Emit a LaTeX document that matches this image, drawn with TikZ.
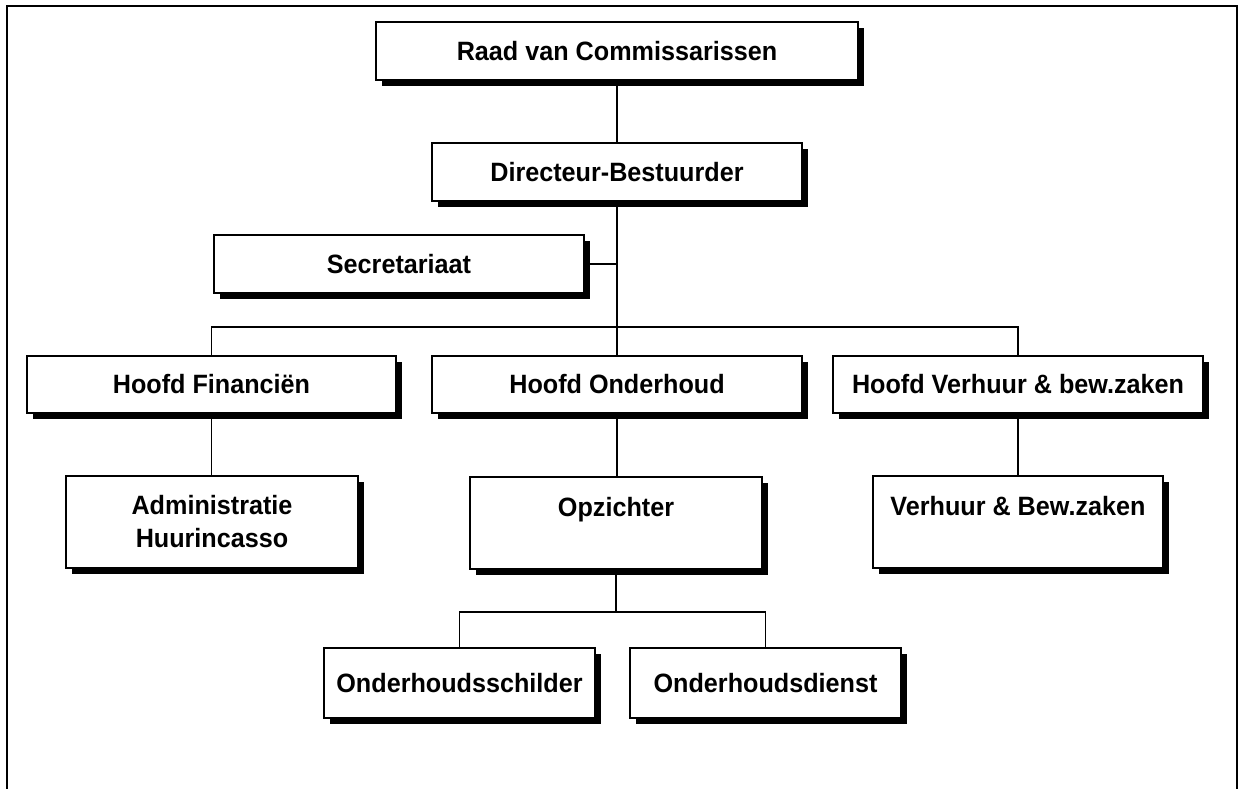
\documentclass[tikz,border=0pt]{standalone}
\usepackage{fontspec}
\newfontfamily\boxfont{Liberation Sans Bold}[FakeStretch=0.95]
\usetikzlibrary{shadows}
\begin{document}
\begin{tikzpicture}[x=1pt,y=-1pt,
  orgbox/.style={draw=black, line width=1.7pt, fill=white, inner sep=0pt,
    align=center, font=\boxfont\fontsize{26.5}{33}\selectfont,
    drop shadow={shadow xshift=6pt, shadow yshift=-6pt, fill=black, opacity=1}},
  link/.style={line width=1.7pt, draw=black},
  frame/.style={line width=2pt, draw=black}]
\useasboundingbox (0,0) rectangle (1242,789);
\draw[frame] (7,789) -- (7,6) -- (1237,6) -- (1237,789);

\node[orgbox, minimum width=482pt, minimum height=58pt] (raad) at (617,51) {Raad van Commissarissen};
\node[orgbox, minimum width=370pt, minimum height=58pt] (dir) at (617,172) {Directeur-Bestuurder};
\node[orgbox, minimum width=370pt, minimum height=58pt] (sec) at (399,264) {Secretariaat};
\node[orgbox, minimum width=369pt, minimum height=57pt] (hf) at (211.5,384.5) {Hoofd Financi\"en};
\node[orgbox, minimum width=370pt, minimum height=57pt] (ho) at (617,384.5) {Hoofd Onderhoud};
\node[orgbox, minimum width=370pt, minimum height=57pt] (hv) at (1018,384.5) {Hoofd Verhuur \& bew.zaken};
\node[orgbox, minimum width=292pt, minimum height=92pt] (adm) at (212,522) {Administratie\\Huurincasso};
\node[orgbox, minimum width=292pt, minimum height=92pt] (opz) at (616,523) {Opzichter\\\phantom{X}};
\node[orgbox, minimum width=290pt, minimum height=92pt] (ver) at (1018,522) {Verhuur \& Bew.zaken\\\phantom{X}};
\node[orgbox, minimum width=271pt, minimum height=70pt] (os) at (459.5,683) {Onderhoudsschilder};
\node[orgbox, minimum width=271pt, minimum height=70pt] (od) at (765.5,683) {Onderhoudsdienst};

\coordinate (bus) at (617,327);
\coordinate (subbus) at (616,612);

\draw[link] (raad.south) -- (dir.south |- raad.south) -- (dir.north);
\draw[link] (dir.south) -- (ho.north);
\draw[link] (sec.east) -- (sec.east -| dir.south);
\draw[link] (hf.north) |- (bus) -| (hv.north);
\draw[link] (hf.south) -- (adm.north -| hf.south);
\draw[link] (ho.south) -- (opz.north -| ho.south);
\draw[link] (hv.south) -- (ver.north -| hv.south);
\draw[link] (opz.south) -- (subbus);
\draw[link] (os.north) |- (subbus) -| (od.north);
\end{tikzpicture}
\end{document}
